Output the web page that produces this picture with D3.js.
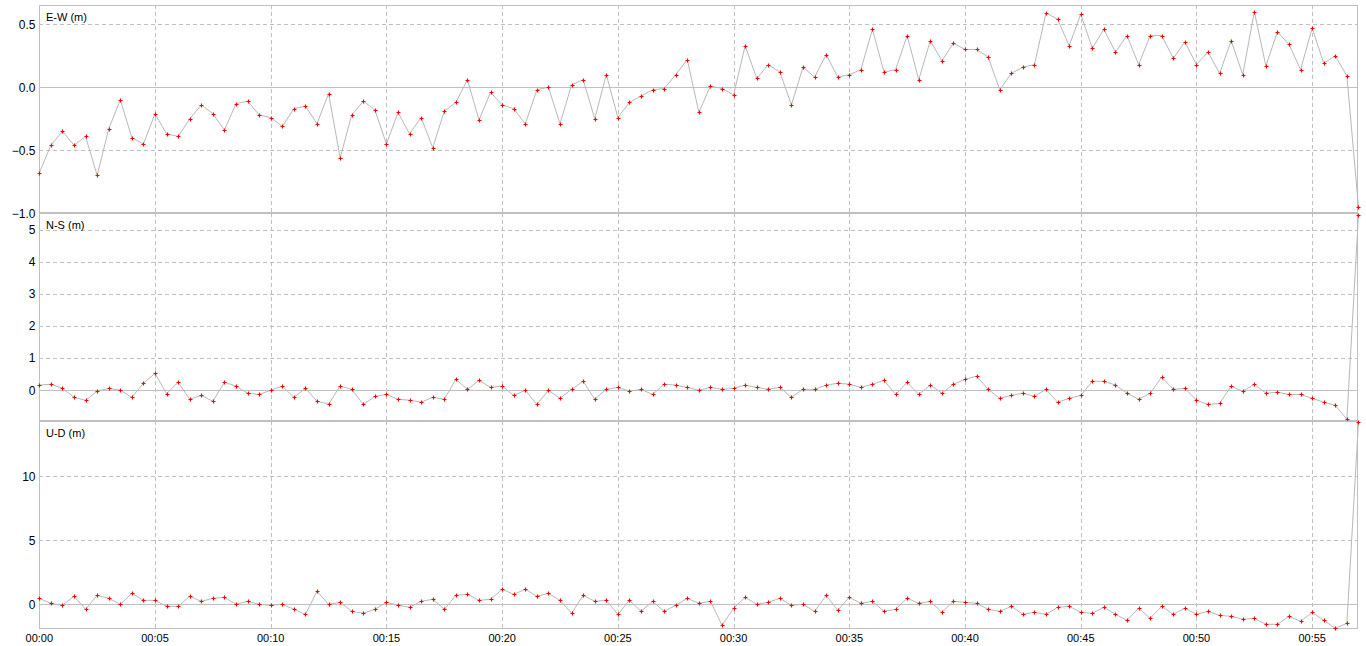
<!DOCTYPE html>
<html>
<head>
<meta charset="utf-8">
<script src="https://cdn.jsdelivr.net/npm/d3@7"></script>
<style>
    html, body { margin: 0; padding: 0; background: #fff; }
    svg { display: block; }
    .tick-label { font-family: "Liberation Sans", Arial, sans-serif; fill: #000; }
    .panel-title { font-family: "Liberation Sans", Arial, sans-serif; font-size: 11px; fill: #000; }
</style>
</head>
<body>
<div id="chart"></div>
<script>
/** ********************************
 *           Data
 ********************************** */

// one sample every 30 seconds (minutes)
const sampleStep = 0.5;

// X axis ticks (minutes) and their labels
const xTickValues = [0, 5, 10, 15, 20, 25, 30, 35, 40, 45, 50, 55];
const xTickLabels = ["00:00", "00:05", "00:10", "00:15", "00:20", "00:25",
                     "00:30", "00:35", "00:40", "00:45", "00:50", "00:55"];

// Panel titles
const panelTitles = ["E-W (m)", "N-S (m)", "U-D (m)"];

// Y ticks for each panel
const ewTicks = [-1.0, -0.5, 0.0, 0.5];
const nsTicks = [0, 1, 2, 3, 4, 5];
const udTicks = [0, 5, 10];

// East-West offset (m)
const ewValues = [
    -0.68, -0.46, -0.35, -0.46, -0.39, -0.70, -0.33, -0.10, -0.40, -0.45,
    -0.21, -0.37, -0.39, -0.25, -0.14, -0.21, -0.34, -0.13, -0.11, -0.22,
    -0.24, -0.31, -0.17, -0.15, -0.29, -0.05, -0.56, -0.22, -0.11, -0.18,
    -0.45, -0.20, -0.37, -0.24, -0.48, -0.19, -0.12,  0.06, -0.26, -0.04,
    -0.14, -0.17, -0.29, -0.02,  0.00, -0.29,  0.02,  0.06, -0.25,  0.10,
    -0.24, -0.12, -0.07, -0.02, -0.01,  0.10,  0.22, -0.20,  0.01, -0.01,
    -0.06,  0.33,  0.07,  0.18,  0.12, -0.14,  0.16,  0.08,  0.26,  0.08,
     0.10,  0.14,  0.46,  0.12,  0.14,  0.41,  0.06,  0.37,  0.21,  0.35,
     0.30,  0.30,  0.24, -0.02,  0.11,  0.16,  0.18,  0.59,  0.54,  0.33,
     0.58,  0.31,  0.46,  0.28,  0.41,  0.18,  0.41,  0.41,  0.23,  0.36,
     0.18,  0.28,  0.11,  0.37,  0.10,  0.60,  0.17,  0.44,  0.34,  0.14,
     0.47,  0.19,  0.25,  0.09, -0.95
];

// North-South offset (m)
const nsValues = [
     0.16,  0.19,  0.06, -0.22, -0.31, -0.03,  0.06,  0.00, -0.22,  0.22,
     0.53, -0.11,  0.25, -0.28, -0.16, -0.34,  0.25,  0.13, -0.09, -0.13,
     0.00,  0.13, -0.22,  0.06, -0.34, -0.43,  0.13,  0.03, -0.44, -0.19,
    -0.13, -0.28, -0.31, -0.37, -0.22, -0.28,  0.34,  0.03,  0.31,  0.09,
     0.13, -0.16,  0.00, -0.44,  0.00, -0.25,  0.03,  0.28, -0.28,  0.03,
     0.09, -0.03,  0.03, -0.13,  0.19,  0.16,  0.09,  0.00,  0.09,  0.03,
     0.06,  0.16,  0.09,  0.03,  0.09, -0.22,  0.03,  0.03,  0.16,  0.22,
     0.19,  0.09,  0.19,  0.31, -0.13,  0.25, -0.13,  0.16, -0.09,  0.19,
     0.34,  0.44,  0.03, -0.25, -0.16, -0.09, -0.19,  0.03, -0.37, -0.25,
    -0.16,  0.28,  0.28,  0.16, -0.09, -0.28, -0.09,  0.41,  0.03,  0.06,
    -0.31, -0.44, -0.41,  0.13, -0.03,  0.19, -0.09, -0.06, -0.13, -0.13,
    -0.25, -0.37, -0.47, -0.90,  5.45
];

// Up-Down offset (m)
const udValues = [
     0.47,  0.08, -0.08,  0.63, -0.39,  0.70,  0.47,  0.00,  0.86,  0.31,
     0.31, -0.16, -0.16,  0.63,  0.23,  0.47,  0.55,  0.00,  0.23,  0.00,
    -0.08,  0.00, -0.39, -0.78,  1.02,  0.00,  0.16, -0.55, -0.70, -0.39,
     0.16, -0.08, -0.23,  0.23,  0.39, -0.39,  0.70,  0.78,  0.31,  0.39,
     1.17,  0.78,  1.17,  0.63,  0.86,  0.31, -0.70,  0.70,  0.23,  0.31,
    -0.78,  0.31, -0.55,  0.23, -0.55, -0.08,  0.47,  0.08,  0.23, -1.64,
    -0.31,  0.55,  0.00,  0.16,  0.47, -0.08,  0.00, -0.55,  0.70, -0.47,
     0.55,  0.08,  0.23, -0.55, -0.39,  0.47,  0.08,  0.23, -0.63,  0.23,
     0.16,  0.08, -0.39, -0.55, -0.16, -0.78, -0.63, -0.78, -0.23, -0.16,
    -0.63, -0.70, -0.23, -0.78, -1.25, -0.31, -1.09, -0.16, -0.78, -0.31,
    -0.78, -0.55, -0.86, -0.94, -1.17, -1.09, -1.56, -1.56, -0.94, -1.33,
    -0.63, -1.25, -1.88, -1.48, 14.24
];

/** ********************************
 *           Layout
 ********************************** */

const svgWidth = 1366;
const svgHeight = 646;

const plotLeft = 39;
const plotRight = 1357;
const panelTops = [5, 213, 421];
const panelHeight = 207;

// y-domains, as the original viewer scaled them
const yDomains = [[-0.99, 0.653], [-0.925, 5.52], [-1.85, 14.32]];
const yTicks = [ewTicks, nsTicks, udTicks];
const yFormats = [d3.format(".1f"), d3.format("d"), d3.format("d")];
const series = [ewValues, nsValues, udValues];

const gridColor = "#c0c0c0";
const lineColor = "#b8b8b8";
const markColor = "#ff0000";

/** ********************************
 *           Drawing
 ********************************** */

var svg = d3.select("#chart")
    .append("svg")
        .attr("width", svgWidth)
        .attr("height", svgHeight);

// shared time scale (minutes)
var xScale = d3.scaleLinear()
    .domain([0, 56.95])
    .range([plotLeft + 0.3, plotRight + 0.3]);

panelTitles.forEach((title, p) => {
    const top = panelTops[p];
    const bottom = top + panelHeight;

    const yScale = d3.scaleLinear()
        .domain(yDomains[p])
        .range([bottom, top]);

    const g = svg.append("g").attr("class", "panel");

    // vertical grid (dashed, every 5 minutes)
    g.selectAll(".vgrid")
        .data(xTickValues.filter(t => t > 0))
        .join("line")
            .attr("class", "vgrid")
            .attr("x1", d => Math.round(xScale(d)) + 0.5)
            .attr("x2", d => Math.round(xScale(d)) + 0.5)
            .attr("y1", top)
            .attr("y2", bottom)
            .attr("stroke", gridColor)
            .attr("stroke-dasharray", "4,3");

    // horizontal grid: zero solid, others dashed
    g.selectAll(".hgrid")
        .data(yTicks[p].filter(t => yScale(t) > top + 1 && yScale(t) < bottom - 1))
        .join("line")
            .attr("class", "hgrid")
            .attr("x1", plotLeft)
            .attr("x2", plotRight)
            .attr("y1", d => Math.round(yScale(d)) + 0.5)
            .attr("y2", d => Math.round(yScale(d)) + 0.5)
            .attr("stroke", gridColor)
            .attr("stroke-dasharray", d => d === 0 ? null : "4,3");

    // y tick labels
    g.selectAll(".ylabel")
        .data(yTicks[p])
        .join("text")
            .attr("class", "tick-label ylabel")
            .attr("x", 35.5)
            .attr("y", d => yScale(d))
            .attr("dy", "0.36em")
            .attr("text-anchor", "end")
            .style("font-size", "12px")
            .text(d => yFormats[p](d));

    // panel frame
    g.append("rect")
        .attr("x", plotLeft + 0.5)
        .attr("y", top + 0.5)
        .attr("width", plotRight - plotLeft)
        .attr("height", panelHeight)
        .attr("fill", "none")
        .attr("stroke", gridColor);

    // title
    g.append("text")
        .attr("class", "panel-title")
        .attr("x", 46)
        .attr("y", top + 16)
        .text(title);

    // data line
    const pts = series[p].map((v, i) => [i * sampleStep, v]);

    const line = d3.line()
        .x(d => xScale(d[0]))
        .y(d => yScale(d[1]));

    g.append("path")
        .datum(pts)
        .attr("d", line)
        .attr("fill", "none")
        .attr("stroke", lineColor)
        .attr("stroke-width", 1);

    // red cross markers
    g.selectAll(".mark")
        .data(pts)
        .join("path")
            .attr("class", "mark")
            .attr("d", d => {
                const x = Math.round(xScale(d[0]));
                const y = Math.round(yScale(d[1]));
                return `M${x - 1.5},${y + 0.5}h4M${x + 0.5},${y - 1.5}v4`;
            })
            .attr("stroke", markColor)
            .attr("stroke-width", 1.2)
            .attr("fill", "none");
});

// x tick labels below the last panel
svg.selectAll(".xlabel")
    .data(xTickValues)
    .join("text")
        .attr("class", "tick-label xlabel")
        .attr("x", d => xScale(d))
        .attr("y", 641.5)
        .attr("text-anchor", "middle")
        .style("font-size", "11px")
        .text((d, i) => xTickLabels[i]);
</script>
</body>
</html>
